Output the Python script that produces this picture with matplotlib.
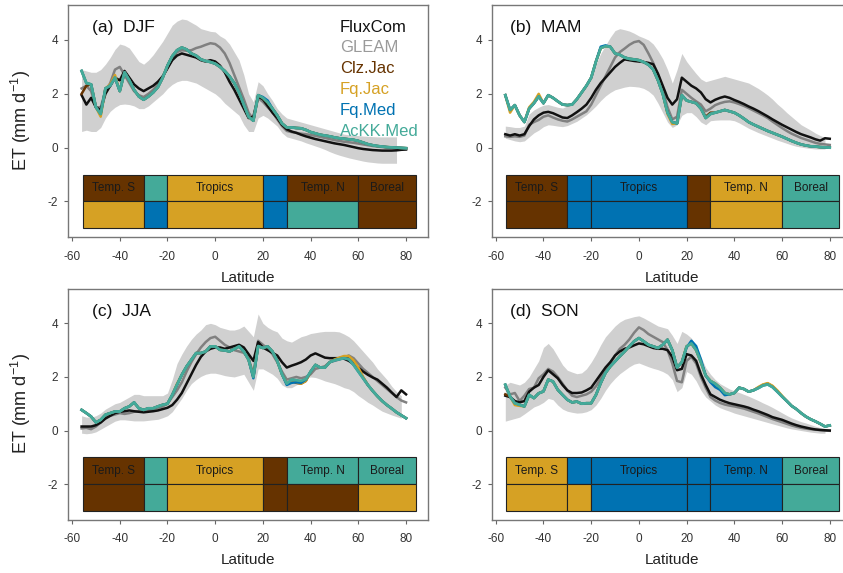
import numpy as np
import matplotlib
matplotlib.use("Agg")
import matplotlib.pyplot as plt
from matplotlib.patches import Rectangle

plt.rcParams["font.family"] = ["Liberation Sans", "DejaVu Sans"]
plt.rcParams["mathtext.fontset"] = "custom"
plt.rcParams["mathtext.rm"] = "Liberation Sans"
plt.rcParams["axes.unicode_minus"] = False

nan = float("nan")

# latitude grid of the zonal means
LAT = [-56, -54, -52, -50, -48, -46, -44, -42, -40, -38,
       -36, -34, -32, -30, -28, -26, -24, -22, -20, -18,
       -16, -14, -12, -10, -8, -6, -4, -2, 0, 2,
       4, 6, 8, 10, 12, 14, 16, 18, 20, 22,
       24, 26, 28, 30, 32, 34, 36, 38, 40, 42,
       44, 46, 48, 50, 52, 54, 56, 58, 60, 62,
       64, 66, 68, 70, 72, 74, 76, 78, 80]

# ---------------- DJF ----------------
DJF_FLUXCOM = [1.95, 1.6, 1.85, 1.5, 1.4, 2.0, 2.3, 2.6, 2.5, 2.85,
               2.6, 2.35, 2.2, 2.1, 2.2, 2.3, 2.45, 2.65, 2.95, 3.25,
               3.42, 3.5, 3.45, 3.4, 3.35, 3.25, 3.2, 3.25, 3.2, 3.05,
               2.8, 2.45, 2.15, 1.8, 1.45, 1.1, 1.15, 1.9, 1.8, 1.55,
               1.3, 1.1, 0.85, 0.68, 0.6, 0.55, 0.48, 0.42, 0.37, 0.32,
               0.28, 0.24, 0.2, 0.16, 0.13, 0.1, 0.06, 0.02, -0.02, -0.05,
               -0.07, -0.09, -0.1, -0.11, -0.11, -0.11, -0.1, -0.08, -0.07]
DJF_GLEAM = [2.2, 2.3, 2.1, 1.5, 1.5, 2.1, 2.4, 2.9, 3.0, 2.7,
             2.4, 2.1, 1.95, 1.88, 2.0, 2.15, 2.35, 2.65, 2.95, 3.3,
             3.55, 3.62, 3.6, 3.62, 3.7, 3.75, 3.82, 3.88, 3.85, 3.72,
             3.5, 3.15, 2.7, 2.25, 1.8, 1.3, 1.05, 1.85, 1.7, 1.5,
             1.32, 1.05, 0.8, 0.62, 0.58, 0.55, 0.52, 0.5, 0.47, 0.44,
             0.4, 0.36, 0.32, 0.28, 0.25, 0.22, 0.2, 0.18, 0.15, 0.12,
             0.09, 0.06, 0.04, 0.02, 0.0, -0.01, -0.02, -0.03, -0.03]
DJF_CLZ_JAC = [2.0, 2.3, 2.35, 1.5, 1.25, 2.2, 2.3, 2.6, 2.1, 2.8,
               2.5, 2.15, 1.9, 1.78, 1.9, 2.05, 2.25, 2.6, 3.05, 3.4,
               3.62, 3.72, 3.65, 3.5, 3.42, 3.28, 3.22, 3.18, 3.12, 3.0,
               2.85, 2.65, 2.4, 2.05, 1.6, 1.15, 1.0, 1.95, 1.85, 1.68,
               1.45, 1.2, 0.9, 0.75, 0.75, 0.73, 0.72, 0.66, 0.58, 0.53,
               0.48, 0.45, 0.42, 0.38, 0.35, 0.33, 0.31, 0.29, 0.25, 0.19,
               0.13, 0.09, 0.06, 0.04, 0.02, 0.01, 0.0, -0.01, -0.02]
DJF_FQ_JAC = [2.85, 2.4, 2.35, 1.5, 1.15, 2.2, 2.35, 2.7, 2.1, 2.8,
              2.5, 2.15, 1.9, 1.78, 1.9, 2.05, 2.25, 2.6, 3.05, 3.4,
              3.62, 3.72, 3.65, 3.5, 3.42, 3.28, 3.22, 3.18, 3.12, 3.0,
              2.85, 2.65, 2.4, 2.05, 1.6, 1.15, 1.0, 1.95, 1.85, 1.68,
              1.45, 1.2, 0.9, 0.75, 0.75, 0.73, 0.72, 0.66, 0.58, 0.53,
              0.48, 0.45, 0.42, 0.38, 0.35, 0.33, 0.31, 0.29, 0.25, 0.19,
              0.13, 0.09, 0.06, 0.04, 0.02, 0.01, 0.0, -0.01, -0.02]
DJF_FQ_MED = [2.85, 2.4, 2.35, 1.5, 1.25, 2.2, 2.3, 2.6, 2.1, 2.8,
              2.5, 2.15, 1.9, 1.78, 1.9, 2.05, 2.25, 2.6, 3.05, 3.4,
              3.62, 3.72, 3.65, 3.5, 3.42, 3.28, 3.22, 3.18, 3.12, 3.0,
              2.85, 2.65, 2.4, 2.05, 1.6, 1.15, 1.0, 1.95, 1.88, 1.75,
              1.45, 1.2, 0.9, 0.75, 0.75, 0.73, 0.72, 0.66, 0.58, 0.53,
              0.48, 0.45, 0.42, 0.38, 0.35, 0.33, 0.31, 0.29, 0.25, 0.19,
              0.13, 0.09, 0.06, 0.04, 0.02, 0.01, 0.0, -0.01, -0.02]
DJF_ACKK_MED = [2.85, 2.4, 2.35, 1.5, 1.25, 2.2, 2.3, 2.6, 2.1, 2.8,
                2.5, 2.15, 1.9, 1.78, 1.9, 2.05, 2.25, 2.6, 3.05, 3.4,
                3.62, 3.72, 3.65, 3.5, 3.42, 3.28, 3.22, 3.18, 3.12, 3.0,
                2.85, 2.65, 2.4, 2.05, 1.6, 1.15, 1.0, 1.95, 1.85, 1.68,
                1.45, 1.2, 0.9, 0.75, 0.75, 0.73, 0.72, 0.66, 0.58, 0.53,
                0.48, 0.45, 0.42, 0.38, 0.35, 0.33, 0.31, 0.29, 0.25, 0.19,
                0.13, 0.09, 0.06, 0.04, 0.02, 0.01, 0.0, -0.01, -0.02]
DJF_SPREAD_HI = [2.9, 2.85, 2.8, 2.8, 2.9, 3.1, 3.35, 3.65, 3.85, 3.8,
                 3.7, 3.45, 3.2, 3.1, 3.25, 3.45, 3.7, 3.95, 4.25, 4.55,
                 4.7, 4.78, 4.75, 4.65, 4.55, 4.42, 4.37, 4.32, 4.3, 4.15,
                 4.05, 3.85, 3.55, 3.25, 2.7, 2.0, 1.7, 2.45, 2.3, 2.0,
                 1.75, 1.45, 1.25, 1.1, 1.05, 1.0, 0.95, 0.9, 0.85, 0.8,
                 0.75, 0.7, 0.65, 0.6, 0.55, 0.5, 0.48, 0.46, 0.45, 0.43,
                 0.42, 0.41, 0.4, 0.4, 0.4, 0.4, 0.4, nan, nan]
DJF_SPREAD_LO = [0.6, 0.65, 0.6, 0.6, 0.75, 1.1, 1.35, 1.5, 1.6, 1.62,
                 1.6, 1.55, 1.45, 1.45, 1.55, 1.7, 1.85, 2.0, 2.2, 2.35,
                 2.45, 2.5, 2.5, 2.45, 2.4, 2.3, 2.2, 2.1, 2.0, 1.85,
                 1.65, 1.5, 1.35, 1.2, 0.85, 0.6, 0.6, 1.1, 1.2, 1.1,
                 0.95, 0.8, 0.55, 0.4, 0.35, 0.3, 0.25, 0.18, 0.12, 0.06,
                 0.0, -0.07, -0.15, -0.22, -0.28, -0.33, -0.38, -0.42, -0.46, -0.5,
                 -0.53, -0.55, -0.57, -0.58, -0.58, -0.58, -0.58, nan, nan]

# ---------------- MAM ----------------
MAM_FLUXCOM = [0.5, 0.45, 0.5, 0.45, 0.5, 0.8, 1.05, 1.2, 1.3, 1.33,
               1.28, 1.2, 1.12, 1.1, 1.2, 1.32, 1.45, 1.6, 1.85, 2.15,
               2.4, 2.6, 2.8, 3.0, 3.15, 3.28, 3.25, 3.22, 3.2, 3.18,
               3.15, 3.1, 2.75, 2.3, 1.85, 1.6, 1.8, 2.6, 2.45, 2.3,
               2.2, 2.05, 1.8, 1.68, 1.78, 1.85, 1.9, 1.85, 1.77, 1.7,
               1.62, 1.53, 1.45, 1.36, 1.26, 1.16, 1.05, 0.95, 0.85, 0.76,
               0.67, 0.58, 0.5, 0.44, 0.38, 0.31, 0.26, 0.35, 0.33]
MAM_GLEAM = [0.42, 0.4, 0.42, 0.4, 0.45, 0.85, 0.95, 1.03, 1.15, 1.2,
             1.12, 1.05, 1.0, 0.97, 1.05, 1.15, 1.25, 1.35, 1.6, 1.95,
             2.3, 2.65, 3.0, 3.35, 3.55, 3.68, 3.82, 3.92, 3.96, 3.82,
             3.5, 3.15, 2.7, 2.15, 1.5, 1.05, 1.15, 2.15, 2.0, 1.85,
             1.72, 1.6, 1.35, 1.45, 1.58, 1.65, 1.7, 1.72, 1.68, 1.62,
             1.55, 1.47, 1.38, 1.29, 1.2, 1.1, 0.97, 0.85, 0.73, 0.62,
             0.52, 0.44, 0.36, 0.3, 0.24, 0.18, 0.14, 0.12, 0.1]
MAM_CLZ_JAC = [1.95, 1.4, 1.58, 1.2, 0.95, 1.45, 1.65, 1.9, 1.65, 1.95,
               1.85, 1.72, 1.6, 1.58, 1.6, 1.8, 2.05, 2.3, 2.6, 3.2,
               3.7, 3.77, 3.75, 3.5, 3.45, 3.35, 3.3, 3.28, 3.25, 3.18,
               3.08, 2.9, 2.5, 2.0, 1.3, 0.95, 0.9, 1.95, 1.75, 1.7,
               1.65, 1.45, 1.15, 1.3, 1.3, 1.35, 1.4, 1.35, 1.3, 1.2,
               1.08, 0.95, 0.86, 0.78, 0.7, 0.62, 0.55, 0.48, 0.41, 0.33,
               0.25, 0.18, 0.12, 0.08, 0.05, 0.04, 0.02, 0.01, 0.0]
MAM_FQ_JAC = [1.95, 1.3, 1.58, 1.2, 0.95, 1.5, 1.7, 2.0, 1.65, 1.95,
              1.85, 1.72, 1.6, 1.58, 1.6, 1.8, 2.05, 2.3, 2.6, 3.2,
              3.7, 3.77, 3.75, 3.5, 3.45, 3.35, 3.3, 3.28, 3.25, 3.18,
              3.08, 2.9, 2.5, 2.0, 1.25, 0.88, 0.9, 1.95, 1.75, 1.7,
              1.65, 1.45, 1.1, 1.25, 1.3, 1.35, 1.4, 1.35, 1.3, 1.2,
              1.08, 0.95, 0.86, 0.78, 0.7, 0.62, 0.55, 0.48, 0.41, 0.33,
              0.25, 0.18, 0.12, 0.08, 0.05, 0.04, 0.02, 0.01, 0.0]
MAM_FQ_MED = [1.95, 1.4, 1.58, 1.2, 0.95, 1.45, 1.65, 1.9, 1.65, 1.95,
              1.85, 1.72, 1.6, 1.58, 1.6, 1.8, 2.05, 2.3, 2.6, 3.2,
              3.75, 3.8, 3.75, 3.5, 3.45, 3.35, 3.3, 3.28, 3.25, 3.18,
              3.08, 2.9, 2.5, 2.0, 1.3, 0.95, 0.9, 1.95, 1.75, 1.7,
              1.65, 1.45, 1.1, 1.25, 1.3, 1.35, 1.4, 1.35, 1.3, 1.2,
              1.08, 0.95, 0.86, 0.78, 0.7, 0.62, 0.55, 0.48, 0.41, 0.33,
              0.25, 0.18, 0.12, 0.08, 0.05, 0.04, 0.02, 0.01, 0.0]
MAM_ACKK_MED = [1.95, 1.4, 1.58, 1.2, 0.95, 1.45, 1.65, 1.9, 1.65, 1.95,
                1.85, 1.72, 1.6, 1.58, 1.6, 1.8, 2.05, 2.3, 2.6, 3.2,
                3.7, 3.77, 3.75, 3.5, 3.45, 3.35, 3.3, 3.28, 3.25, 3.18,
                3.08, 2.9, 2.5, 2.0, 1.3, 0.95, 0.9, 1.95, 1.75, 1.7,
                1.65, 1.45, 1.1, 1.25, 1.3, 1.35, 1.4, 1.35, 1.3, 1.2,
                1.08, 0.95, 0.86, 0.78, 0.7, 0.62, 0.55, 0.48, 0.41, 0.33,
                0.25, 0.18, 0.12, 0.08, 0.05, 0.04, 0.02, 0.01, 0.0]
MAM_SPREAD_HI = [0.8, 0.78, 0.75, 0.75, 0.8, 1.25, 1.4, 1.5, 1.58, 1.6,
                 1.55, 1.5, 1.47, 1.55, 1.7, 1.85, 2.1, 2.35, 2.65, 3.1,
                 3.5, 3.8, 4.1, 4.35, 4.42, 4.38, 4.33, 4.25, 4.15, 4.08,
                 4.0, 3.85, 3.6, 3.3, 2.9, 2.4, 2.9, 3.5, 3.2, 2.97,
                 2.75, 2.55, 2.45, 2.5, 2.55, 2.6, 2.65, 2.6, 2.55, 2.5,
                 2.45, 2.4, 2.3, 2.2, 2.08, 1.95, 1.8, 1.62, 1.47, 1.3,
                 1.15, 1.0, 0.85, 0.75, 0.65, 0.54, 0.45, 0.38, nan]
MAM_SPREAD_LO = [0.35, 0.3, 0.25, 0.22, 0.25, 0.4, 0.55, 0.65, 0.78, 0.85,
                 0.83, 0.8, 0.78, 0.82, 0.9, 0.98, 1.1, 1.22, 1.38, 1.55,
                 1.75, 1.92, 2.05, 2.15, 2.2, 2.25, 2.28, 2.27, 2.25, 2.2,
                 2.1, 1.95, 1.65, 1.3, 0.95, 0.75, 0.85, 1.2, 1.3, 1.3,
                 1.15, 0.95, 0.85, 1.0, 1.02, 1.03, 1.03, 1.03, 1.0, 0.92,
                 0.82, 0.72, 0.64, 0.56, 0.49, 0.42, 0.35, 0.28, 0.22, 0.16,
                 0.1, 0.05, 0.02, -0.01, -0.03, -0.05, -0.05, -0.05, nan]

# ---------------- JJA ----------------
JJA_FLUXCOM = [0.15, 0.15, 0.15, 0.2, 0.3, 0.45, 0.55, 0.65, 0.7, 0.72,
               0.75, 0.72, 0.7, 0.68, 0.7, 0.72, 0.75, 0.8, 0.85, 0.95,
               1.15, 1.4, 1.75, 2.1, 2.45, 2.75, 2.95, 3.05, 3.1, 3.1,
               3.05, 3.1, 3.15, 3.2, 3.1, 2.85, 2.6, 3.3, 3.1, 3.0,
               2.9, 2.8, 2.55, 2.35, 2.42, 2.48, 2.55, 2.65, 2.8, 2.88,
               2.8, 2.72, 2.7, 2.7, 2.7, 2.68, 2.6, 2.48, 2.35, 2.2,
               2.08, 1.98, 1.9, 1.75, 1.6, 1.42, 1.25, 1.5, 1.35]
JJA_GLEAM = [0.08, 0.1, 0.05, 0.15, 0.3, 0.45, 0.55, 0.6, 0.65, 0.62,
             0.65, 0.7, 0.72, 0.72, 0.75, 0.8, 0.85, 0.9, 1.0, 1.25,
             1.5, 1.8, 2.2, 2.55, 2.85, 3.1, 3.3, 3.45, 3.5, 3.35,
             3.2, 3.1, 3.0, 2.95, 2.9, 2.7, 2.1, 3.35, 3.2, 3.05,
             2.85, 2.55, 2.2, 1.9, 1.95, 2.0, 1.95, 2.0, 2.1, 2.3,
             2.35, 2.4, 2.55, 2.6, 2.65, 2.72, 2.8, 2.7, 2.5, 2.3,
             2.15, 2.0, 1.85, 1.7, 1.55, 1.4, 1.25, 1.12, 1.05]
JJA_CLZ_JAC = [0.77, 0.65, 0.52, 0.3, 0.4, 0.59, 0.65, 0.71, 0.71, 0.83,
               0.9, 1.05, 0.83, 0.77, 0.83, 0.83, 0.9, 0.96, 1.0, 1.33,
               1.71, 2.08, 2.39, 2.64, 2.89, 2.89, 2.95, 3.14, 3.14, 3.01,
               2.99, 2.95, 3.04, 3.14, 2.95, 2.64, 2.0, 3.15, 3.08, 3.14,
               2.95, 2.6, 2.1, 1.75, 1.85, 1.78, 1.75, 1.85, 2.2, 2.45,
               2.35, 2.35, 2.55, 2.64, 2.7, 2.75, 2.75, 2.6, 2.3, 1.98,
               1.7, 1.48, 1.28, 1.1, 0.95, 0.82, 0.68, 0.57, 0.46]
JJA_FQ_JAC = [0.77, 0.65, 0.52, 0.3, 0.4, 0.59, 0.65, 0.71, 0.71, 0.83,
              0.9, 1.05, 0.83, 0.77, 0.83, 0.83, 0.9, 0.96, 1.0, 1.33,
              1.75, 2.08, 2.39, 2.64, 2.89, 2.89, 2.95, 3.14, 3.14, 3.01,
              2.99, 2.95, 3.04, 3.14, 2.95, 2.64, 2.0, 3.15, 3.08, 3.14,
              2.95, 2.6, 2.1, 1.75, 1.85, 1.8, 1.75, 1.85, 2.2, 2.45,
              2.35, 2.35, 2.55, 2.65, 2.72, 2.78, 2.78, 2.62, 2.35, 2.0,
              1.7, 1.48, 1.28, 1.1, 0.95, 0.82, 0.68, 0.57, 0.46]
JJA_FQ_MED = [0.77, 0.65, 0.52, 0.3, 0.4, 0.59, 0.65, 0.71, 0.71, 0.83,
              0.9, 1.05, 0.83, 0.77, 0.83, 0.83, 0.9, 0.96, 1.0, 1.33,
              1.71, 2.08, 2.39, 2.64, 2.89, 2.89, 2.95, 3.14, 3.14, 3.01,
              2.99, 2.95, 3.04, 3.14, 2.95, 2.64, 1.95, 3.15, 3.08, 3.14,
              2.95, 2.6, 2.1, 1.7, 1.78, 1.8, 1.78, 1.9, 2.2, 2.45,
              2.35, 2.35, 2.55, 2.62, 2.66, 2.7, 2.66, 2.45, 2.2, 1.95,
              1.7, 1.48, 1.28, 1.1, 0.95, 0.82, 0.68, 0.57, 0.46]
JJA_ACKK_MED = [0.77, 0.65, 0.52, 0.3, 0.4, 0.59, 0.65, 0.71, 0.71, 0.83,
                0.9, 1.05, 0.83, 0.77, 0.83, 0.83, 0.9, 0.96, 1.0, 1.33,
                1.71, 2.08, 2.39, 2.64, 2.89, 2.89, 2.95, 3.14, 3.14, 3.01,
                2.99, 2.95, 3.04, 3.14, 2.95, 2.64, 2.0, 3.15, 3.08, 3.14,
                2.95, 2.6, 2.1, 1.75, 1.9, 1.88, 1.85, 1.92, 2.2, 2.45,
                2.35, 2.35, 2.55, 2.62, 2.66, 2.7, 2.66, 2.45, 2.2, 1.95,
                1.7, 1.48, 1.28, 1.1, 0.95, 0.82, 0.68, 0.57, 0.46]
JJA_SPREAD_HI = [0.55, 0.5, 0.5, 0.55, 0.65, 0.8, 0.9, 1.0, 1.05, 1.15,
                 1.25, 1.35, 1.35, 1.3, 1.3, 1.3, 1.3, 1.3, 1.4, 1.9,
                 2.5, 2.85, 3.15, 3.4, 3.6, 3.75, 3.95, 4.0, 3.95, 3.85,
                 3.8, 3.75, 3.75, 3.8, 3.9, 3.7, 3.5, 4.35, 4.0, 3.85,
                 3.75, 3.68, 3.45, 3.35, 3.3, 3.4, 3.5, 3.55, 3.62, 3.65,
                 3.68, 3.7, 3.7, 3.7, 3.68, 3.6, 3.5, 3.35, 3.15, 2.95,
                 2.75, 2.55, 2.3, 2.1, 1.9, 1.65, 1.45, 1.3, nan]
JJA_SPREAD_LO = [-0.1, -0.12, -0.1, -0.05, 0.05, 0.15, 0.25, 0.35, 0.4, 0.4,
                 0.38, 0.36, 0.36, 0.36, 0.38, 0.4, 0.42, 0.48, 0.55, 0.7,
                 0.95, 1.2, 1.5, 1.75, 1.9, 2.02, 2.1, 2.14, 2.14, 2.1,
                 2.05, 2.02, 2.0, 2.05, 2.1, 1.8, 1.5, 2.3, 2.3, 2.2,
                 2.1, 1.95, 1.7, 1.6, 1.6, 1.7, 1.8, 1.95, 2.0, 1.98,
                 1.92, 1.85, 1.8, 1.75, 1.68, 1.6, 1.55, 1.45, 1.3, 1.18,
                 1.05, 0.95, 0.83, 0.72, 0.65, 0.58, 0.52, 0.46, nan]

# ---------------- SON ----------------
SON_FLUXCOM = [1.3, 1.25, 1.1, 1.05, 1.1, 1.45, 1.6, 1.7, 2.0, 2.25,
               2.1, 1.95, 1.7, 1.5, 1.4, 1.4, 1.42, 1.5, 1.6, 1.85,
               2.1, 2.35, 2.55, 2.8, 2.95, 3.05, 3.1, 3.18, 3.25, 3.22,
               3.15, 3.08, 3.05, 3.05, 3.0, 2.75, 2.25, 2.3, 2.85, 2.8,
               2.6, 2.1, 1.7, 1.35, 1.25, 1.15, 1.08, 1.02, 0.98, 0.94,
               0.9, 0.85, 0.78, 0.72, 0.65, 0.58, 0.5, 0.45, 0.4, 0.33,
               0.26, 0.2, 0.15, 0.11, 0.07, 0.04, 0.02, 0.01, 0.0]
SON_GLEAM = [1.6, 1.35, 1.4, 1.1, 1.3, 1.55, 1.6, 1.95, 2.1, 2.3,
             2.2, 2.0, 1.75, 1.5, 1.3, 1.25, 1.3, 1.35, 1.45, 1.65,
             1.95, 2.2, 2.5, 2.8, 3.05, 3.2, 3.4, 3.65, 3.85, 3.75,
             3.6, 3.5, 3.4, 3.3, 3.0, 2.5, 1.85, 1.8, 2.6, 2.75,
             2.5, 2.0, 1.6, 1.25, 1.12, 1.03, 0.97, 0.93, 0.9, 0.86,
             0.82, 0.76, 0.7, 0.64, 0.57, 0.5, 0.43, 0.37, 0.31, 0.25,
             0.19, 0.14, 0.1, 0.07, 0.05, 0.03, 0.02, 0.0, -0.01]
SON_CLZ_JAC = [1.35, 1.27, 1.02, 0.96, 0.9, 1.33, 1.21, 1.39, 1.46, 1.9,
               1.83, 1.52, 1.33, 1.15, 1.05, 1.08, 1.0, 1.02, 1.02, 1.33,
               1.77, 2.15, 2.39, 2.58, 2.77, 2.95, 3.14, 3.33, 3.45, 3.33,
               3.2, 3.14, 3.08, 3.2, 3.39, 3.0, 2.35, 2.55, 3.14, 3.25,
               3.0, 2.55, 2.05, 1.85, 1.75, 1.6, 1.4, 1.35, 1.4, 1.6,
               1.55, 1.45, 1.5, 1.6, 1.7, 1.75, 1.65, 1.47, 1.27, 1.1,
               0.92, 0.8, 0.65, 0.52, 0.42, 0.34, 0.25, 0.15, 0.19]
SON_FQ_JAC = [1.71, 1.27, 0.95, 0.92, 0.9, 1.33, 1.21, 1.39, 1.46, 1.9,
              1.83, 1.52, 1.33, 1.15, 1.05, 1.08, 1.0, 1.02, 1.02, 1.33,
              1.77, 2.15, 2.39, 2.58, 2.77, 2.95, 3.14, 3.33, 3.45, 3.33,
              3.2, 3.14, 3.08, 3.2, 3.39, 3.0, 2.35, 2.55, 3.14, 3.25,
              3.0, 2.55, 2.05, 1.85, 1.75, 1.6, 1.4, 1.35, 1.4, 1.6,
              1.55, 1.45, 1.5, 1.62, 1.72, 1.77, 1.67, 1.5, 1.3, 1.1,
              0.92, 0.8, 0.65, 0.52, 0.42, 0.34, 0.25, 0.15, 0.19]
SON_FQ_MED = [1.71, 1.27, 1.02, 0.96, 0.9, 1.33, 1.21, 1.39, 1.46, 1.9,
              1.83, 1.52, 1.33, 1.15, 1.05, 1.08, 1.0, 1.02, 1.02, 1.33,
              1.77, 2.15, 2.39, 2.58, 2.77, 2.95, 3.14, 3.33, 3.45, 3.33,
              3.2, 3.14, 3.08, 3.2, 3.39, 3.0, 2.35, 2.55, 3.1, 3.35,
              3.15, 2.65, 2.05, 1.8, 1.62, 1.52, 1.32, 1.35, 1.4, 1.6,
              1.55, 1.45, 1.5, 1.58, 1.68, 1.72, 1.62, 1.45, 1.27, 1.1,
              0.92, 0.8, 0.65, 0.52, 0.42, 0.34, 0.25, 0.15, 0.19]
SON_ACKK_MED = [1.71, 1.27, 1.02, 0.96, 0.9, 1.33, 1.21, 1.39, 1.46, 1.9,
                1.83, 1.52, 1.33, 1.15, 1.05, 1.08, 1.0, 1.02, 1.02, 1.33,
                1.77, 2.15, 2.39, 2.58, 2.77, 2.95, 3.14, 3.33, 3.45, 3.33,
                3.2, 3.14, 3.08, 3.2, 3.39, 3.0, 2.35, 2.55, 3.14, 3.25,
                3.0, 2.55, 2.05, 1.85, 1.75, 1.6, 1.4, 1.35, 1.4, 1.6,
                1.55, 1.45, 1.5, 1.58, 1.68, 1.72, 1.62, 1.45, 1.27, 1.1,
                0.92, 0.8, 0.65, 0.52, 0.42, 0.34, 0.25, 0.15, 0.19]
SON_SPREAD_HI = [1.7, 1.8, 1.75, 1.7, 1.8, 2.0, 2.3, 2.6, 3.1, 3.25,
                 3.05, 2.75, 2.45, 2.25, 2.18, 2.12, 2.15, 2.3, 2.55, 2.85,
                 3.2, 3.5, 3.7, 3.9, 4.05, 4.15, 4.2, 4.25, 4.28, 4.2,
                 4.1, 4.0, 3.9, 3.85, 3.8, 3.55, 3.25, 3.7, 3.6, 3.45,
                 3.15, 2.75, 2.35, 2.1, 1.9, 1.75, 1.65, 1.55, 1.48, 1.42,
                 1.35, 1.28, 1.2, 1.12, 1.03, 0.95, 0.86, 0.76, 0.66, 0.56,
                 0.47, 0.4, 0.33, 0.28, 0.22, 0.16, 0.11, 0.08, nan]
SON_SPREAD_LO = [0.35, 0.4, 0.45, 0.5, 0.62, 0.75, 0.88, 0.95, 1.05, 1.2,
                 1.15, 0.95, 0.8, 0.72, 0.68, 0.65, 0.66, 0.7, 0.78, 0.95,
                 1.2, 1.5, 1.75, 1.95, 2.12, 2.25, 2.38, 2.48, 2.52, 2.45,
                 2.38, 2.32, 2.27, 2.2, 2.1, 1.9, 1.45, 1.6, 2.2, 2.1,
                 1.85, 1.5, 1.25, 1.1, 0.95, 0.85, 0.78, 0.72, 0.65, 0.6,
                 0.55, 0.5, 0.45, 0.4, 0.35, 0.3, 0.25, 0.2, 0.15, 0.1,
                 0.06, 0.03, 0.0, -0.03, -0.06, -0.08, -0.1, -0.1, nan]

# best (upper row) and second best (lower row) product per climate zone
ZONE_EDGES = [-55.5, -30, -20, 20, 30, 60, 84]
ZONE_NAMES = ["Temp. S", "", "Tropics", "", "Temp. N", "Boreal"]
DJF_BEST = ["Clz.Jac", "AcKK.Med", "Fq.Jac", "Fq.Med", "Clz.Jac", "Clz.Jac"]
DJF_SECOND = ["Fq.Jac", "Fq.Med", "Fq.Jac", "Fq.Med", "AcKK.Med", "Clz.Jac"]
MAM_BEST = ["Clz.Jac", "Fq.Med", "Fq.Med", "Clz.Jac", "Fq.Jac", "AcKK.Med"]
MAM_SECOND = ["Clz.Jac", "Fq.Med", "Fq.Med", "Clz.Jac", "Fq.Jac", "AcKK.Med"]
JJA_BEST = ["Clz.Jac", "AcKK.Med", "Fq.Jac", "Clz.Jac", "AcKK.Med", "AcKK.Med"]
JJA_SECOND = ["Clz.Jac", "AcKK.Med", "Fq.Jac", "Clz.Jac", "Clz.Jac", "Fq.Jac"]
SON_BEST = ["Fq.Jac", "Fq.Med", "Fq.Med", "Fq.Med", "Fq.Med", "AcKK.Med"]
SON_SECOND = ["Fq.Jac", "Fq.Jac", "Fq.Med", "Fq.Med", "Fq.Med", "AcKK.Med"]

PRODUCTS = ["FluxCom", "GLEAM", "Clz.Jac", "Fq.Jac", "Fq.Med", "AcKK.Med"]
LINE_COLORS = {"FluxCom": "#111111", "GLEAM": "#808080", "Clz.Jac": "#663300",
               "Fq.Jac": "#D6A124", "Fq.Med": "#0072B2", "AcKK.Med": "#44AA99"}
TEXT_COLORS = dict(LINE_COLORS, GLEAM="#9a9a9a")
LINE_WIDTHS = {"FluxCom": 1.8, "GLEAM": 1.8, "Clz.Jac": 1.8,
               "Fq.Jac": 1.8, "Fq.Med": 1.8, "AcKK.Med": 2.0}

panels = [
    ("(a)", "DJF", [DJF_FLUXCOM, DJF_GLEAM, DJF_CLZ_JAC, DJF_FQ_JAC, DJF_FQ_MED, DJF_ACKK_MED],
     DJF_SPREAD_LO, DJF_SPREAD_HI, DJF_BEST, DJF_SECOND),
    ("(b)", "MAM", [MAM_FLUXCOM, MAM_GLEAM, MAM_CLZ_JAC, MAM_FQ_JAC, MAM_FQ_MED, MAM_ACKK_MED],
     MAM_SPREAD_LO, MAM_SPREAD_HI, MAM_BEST, MAM_SECOND),
    ("(c)", "JJA", [JJA_FLUXCOM, JJA_GLEAM, JJA_CLZ_JAC, JJA_FQ_JAC, JJA_FQ_MED, JJA_ACKK_MED],
     JJA_SPREAD_LO, JJA_SPREAD_HI, JJA_BEST, JJA_SECOND),
    ("(d)", "SON", [SON_FLUXCOM, SON_GLEAM, SON_CLZ_JAC, SON_FQ_JAC, SON_FQ_MED, SON_ACKK_MED],
     SON_SPREAD_LO, SON_SPREAD_HI, SON_BEST, SON_SECOND),
]

W, H = 843, 573
fig = plt.figure(figsize=(W / 100, H / 100), dpi=100)

# axes boxes in pixels: left, top, width, height
boxes = [(68, 5, 360, 232), (491.7, 5, 360, 232),
         (68, 288.5, 360, 231), (491.7, 288.5, 360, 231)]
tag_x = [0.066, 0.052, 0.066, 0.052]

lat = np.array(LAT, dtype=float)

for i, (tag, season, series, lo, hi, best, second) in enumerate(panels):
    left, top, width, height = boxes[i]
    ax = fig.add_axes([left / W, 1 - (top + height) / H, width / W, height / H])

    # spread of the ensemble
    ax.fill_between(lat, np.array(lo, dtype=float), np.array(hi, dtype=float),
                    color="#d0d0d0", lw=0, zorder=1)

    # GLEAM under FluxCom, the four model runs on top
    order = ["GLEAM", "FluxCom", "Clz.Jac", "Fq.Jac", "Fq.Med", "AcKK.Med"]
    for z, name in enumerate(order):
        vals = series[PRODUCTS.index(name)]
        ax.plot(lat, vals, color=LINE_COLORS[name], lw=LINE_WIDTHS[name],
                solid_joinstyle="round", zorder=3 + z)

    # zone table below the curves
    for j in range(len(ZONE_NAMES)):
        x0, x1 = ZONE_EDGES[j], ZONE_EDGES[j + 1]
        ax.add_patch(Rectangle((x0, -2), x1 - x0, 1, fc=LINE_COLORS[best[j]],
                               ec="#222222", lw=0.8, zorder=2))
        ax.add_patch(Rectangle((x0, -3), x1 - x0, 1, fc=LINE_COLORS[second[j]],
                               ec="#222222", lw=0.8, zorder=2))
        if ZONE_NAMES[j]:
            ax.text((x0 + x1) / 2, -1.5, ZONE_NAMES[j], ha="center", va="center",
                    fontsize=8.5, color="#1a1a1a", zorder=3)

    ax.set_xlim(-61.7, 89.2)
    ax.set_ylim(-3.32, 5.3)
    ax.set_xticks([-60, -40, -20, 0, 20, 40, 60, 80])
    ax.set_yticks([-2, 0, 2, 4])
    ax.tick_params(axis="x", direction="out", length=3, width=0.8, pad=7,
                   colors="#666666", labelcolor="#333333", labelsize=8.5)
    ax.tick_params(axis="y", direction="out", length=3, width=0.8, pad=4,
                   colors="#666666", labelcolor="#333333", labelsize=8.5)
    for sp in ax.spines.values():
        sp.set_color("#777777")
        sp.set_linewidth(1.0)

    ax.text(tag_x[i], 0.902, tag + "  " + season, transform=ax.transAxes,
            ha="left", va="center", fontsize=12.5, color="#111111")
    ax.text(0.5, -41 / height, "Latitude", transform=ax.transAxes,
            ha="center", va="center", fontsize=11, color="#222222")
    if i % 2 == 0:
        ax.text(-0.131, 0.5, r"ET (mm d$\mathregular{^{-1}}$)", transform=ax.transAxes,
                rotation=90, ha="center", va="center", fontsize=13, color="#222222")

    if i == 0:
        for k, name in enumerate(PRODUCTS):
            ax.text(0.7556, 0.905 - k * 0.0897, name, transform=ax.transAxes,
                    ha="left", va="center", fontsize=12, color=TEXT_COLORS[name])

fig.savefig("out.png", dpi=100)
